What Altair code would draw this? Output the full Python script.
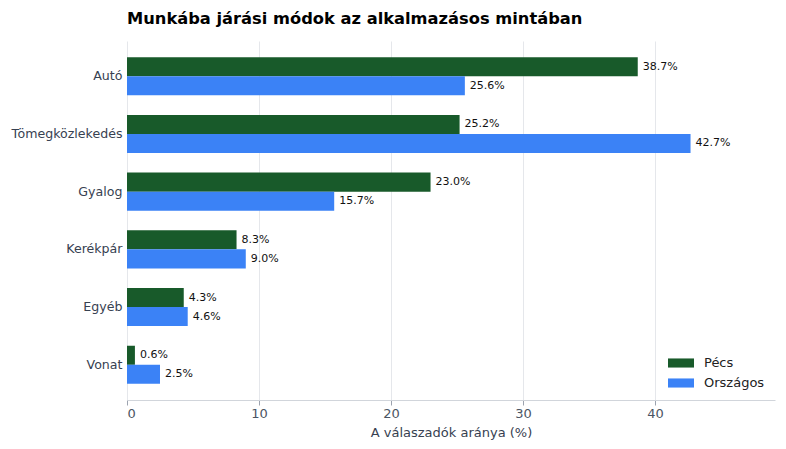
import altair as alt
import pandas as pd

categories = ["Autó", "Tömegközlekedés", "Gyalog", "Kerékpár", "Egyéb", "Vonat"]
pecs = [38.7, 25.2, 23.0, 8.3, 4.3, 0.6]
orszagos = [25.6, 42.7, 15.7, 9.0, 4.6, 2.5]
series = ["Pécs", "Országos"]
colors = ["#185a2a", "#3b82f6"]

rows = []
for c, p, o in zip(categories, pecs, orszagos):
    rows.append({"mod": c, "sorozat": "Pécs", "ertek": p, "label": f"{p:.1f}%"})
    rows.append({"mod": c, "sorozat": "Országos", "ertek": o, "label": f"{o:.1f}%"})
df = pd.DataFrame(rows)

FONT = "DejaVu Sans"

y_enc = alt.Y("mod:N", sort=categories, title=None,
              scale=alt.Scale(paddingInner=0.34, paddingOuter=0.28),
              axis=alt.Axis(domain=False, ticks=False, labelFontSize=12.6,
                            labelColor="#374151", labelPadding=5, grid=False))
x_enc = alt.X("ertek:Q", title="A válaszadók aránya (%)",
              scale=alt.Scale(domain=[0, 49.1], nice=False),
              axis=alt.Axis(values=[0, 10, 20, 30, 40], grid=True, gridColor="#e5e7eb",
                            domainColor="#d1d5db", tickColor="#9ca3af", tickSize=5,
                            labelFontSize=13, labelColor="#4b5563", titleFontSize=13,
                            titleColor="#374151", titleFontWeight="normal", titlePadding=6))
yoff = alt.YOffset("sorozat:N", sort=series, scale=alt.Scale(domain=series))

bars = alt.Chart(df).mark_bar().encode(
    y=y_enc, x=x_enc, yOffset=yoff,
    color=alt.Color("sorozat:N", sort=series,
                    scale=alt.Scale(domain=series, range=colors),
                    legend=alt.Legend(title=None, orient="bottom-right", offset=10,
                                      symbolType="M-1,-0.35L1,-0.35L1,0.35L-1,0.35Z",
                                      symbolSize=676, symbolStrokeWidth=0,
                                      labelFontSize=13, labelColor="#222222",
                                      rowPadding=0, symbolOffset=0, labelOffset=10)),
)
texts = alt.Chart(df).mark_text(align="left", baseline="middle", dx=5,
                                fontSize=11, color="#111111", font=FONT).encode(
    y=alt.Y("mod:N", sort=categories), x="ertek:Q", yOffset=yoff, text="label:N"
)

chart = alt.layer(bars, texts).properties(
    width=648, height=359,
    padding={"left": 2, "right": 2, "top": 2, "bottom": 2},
    title=alt.TitleParams("Munkába járási módok az alkalmazásos mintában", anchor="start",
                          frame="group",
                          fontSize=16.3, fontWeight="bold", font=FONT, color="#000000",
                          offset=14),
).configure(font=FONT).configure_view(stroke=None).configure_axis(
    labelFont=FONT, titleFont=FONT).configure_legend(labelFont=FONT)

chart.save("out.html", embed_options={"renderer": "svg", "actions": False})
